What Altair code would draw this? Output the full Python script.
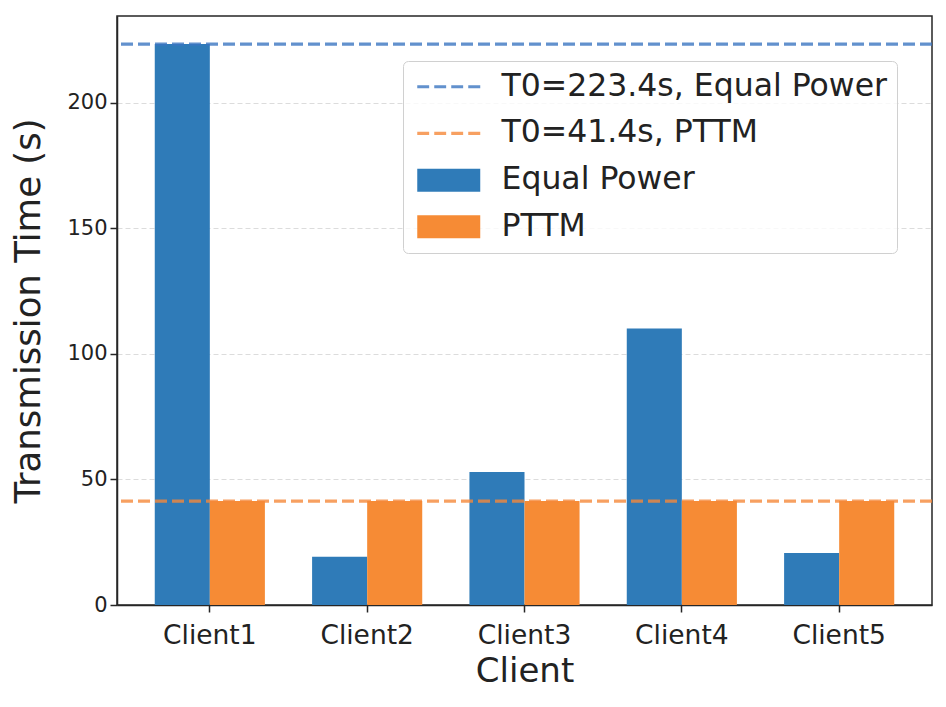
import altair as alt
import pandas as pd

# ---- data ----
clients = ["Client1", "Client2", "Client3", "Client4", "Client5"]
equal_power = [223.4, 19.2, 53.0, 110.1, 20.7]
pttm = [41.4, 41.4, 41.4, 41.4, 41.4]
series_names = ["Equal Power", "PTTM"]
t0_values = [223.4, 41.4]
t0_labels = ["T0=223.4s, Equal Power", "T0=41.4s, PTTM"]
y_ticks = [0, 50, 100, 150, 200]

# ---- styles ----
bar_colors = ["#2f7bb8", "#f68b35"]
rule_colors = ["#3b76c0", "#f5883a"]
rule_colors_blended = ["#6291cd", "#f7a061"]
legend_labels = t0_labels + series_names
legend_colors = rule_colors_blended + bar_colors
dash_path = ("M-1,-0.14H0.035V0.14H-1Z "
             "M0.478,-0.14H1.513V0.14H0.478Z "
             "M1.956,-0.14H2.991V0.14H1.956Z "
             "M3.434,-0.14H4.478V0.14H3.434Z")
patch_path = "M-1,-1H4.478V1H-1Z"
legend_paths = [dash_path, dash_path, patch_path, patch_path]

FONT = "DejaVu Sans"
DARK = "#262626"

bar_rows = []
for c, ep, pt in zip(clients, equal_power, pttm):
    bar_rows.append({"client": c, "series": series_names[0], "value": ep})
    bar_rows.append({"client": c, "series": series_names[1], "value": pt})
bar_df = pd.DataFrame(bar_rows)
rule_df = pd.DataFrame({"value": t0_values, "label": t0_labels})
legend_df = pd.DataFrame({"entry": legend_labels})

y_scale = alt.Scale(domain=[0, 234.57], nice=False, zero=True)

bars = alt.Chart(bar_df).mark_bar().encode(
    x=alt.X("client:N", sort=clients,
            scale=alt.Scale(paddingInner=0.3, paddingOuter=0.24),
            axis=alt.Axis(title="Client", labelAngle=0, labelFontSize=26.5,
                          labelPadding=10, tickSize=7, tickWidth=1.5,
                          tickColor=DARK, domainColor=DARK, domainWidth=1.5,
                          titleFontSize=34, titlePadding=6, grid=False,
                          labelColor="#222222", titleColor="#222222",
                          titleFontWeight="normal", labelFont=FONT, titleFont=FONT)),
    xOffset=alt.XOffset("series:N", sort=series_names,
                        scale=alt.Scale(domain=series_names, paddingInner=0, paddingOuter=0)),
    y=alt.Y("value:Q", scale=y_scale,
            axis=alt.Axis(title="Transmission Time (s)", values=y_ticks,
                          labelFontSize=21, labelPadding=3, tickSize=7,
                          tickWidth=1.5, tickColor=DARK, domainColor=DARK,
                          domainWidth=1.5, titleFontSize=35.5, titlePadding=20,
                          grid=True, gridDash=[5, 3], gridColor="#dcdcdc",
                          gridWidth=1, labelColor="#222222", titleColor="#222222",
                          titleFontWeight="normal", labelFont=FONT, titleFont=FONT)),
    color=alt.Color("series:N", scale=alt.Scale(domain=series_names, range=bar_colors),
                    legend=None),
)

rules = alt.Chart(rule_df).mark_rule(strokeDash=[12, 5], strokeWidth=3.2, opacity=0.8).encode(
    y=alt.Y("value:Q", scale=y_scale, title="Transmission Time (s)"),
    color=alt.Color("label:N", scale=alt.Scale(domain=t0_labels, range=rule_colors),
                    legend=None),
)

legend_props = dict(
    title=None, orient="none", legendX=286, legendY=45,
    symbolSize=529, symbolStrokeWidth=0, symbolOpacity=1,
    labelFontSize=31.5, labelFont=FONT, labelColor="#222222", labelLimit=1000,
    labelOffset=57, padding=10, rowPadding=13.7,
    fillColor="rgba(255,255,255,0.8)", strokeColor="#d0d0d0", cornerRadius=5,
)

dummy = alt.Chart(legend_df).mark_point(filled=True, opacity=0).encode(
    color=alt.Color("entry:N", sort=legend_labels,
                    scale=alt.Scale(domain=legend_labels, range=legend_colors),
                    legend=alt.Legend(**legend_props)),
    shape=alt.Shape("entry:N", sort=legend_labels,
                    scale=alt.Scale(domain=legend_labels, range=legend_paths),
                    legend=alt.Legend(**legend_props)),
)

chart = alt.layer(bars, rules, dummy).resolve_scale(
    color="independent", shape="independent"
).properties(
    width=815, height=589,
    autosize=alt.AutoSizeParams(type="none"),
    padding={"left": 109, "top": 8, "right": 6, "bottom": 94},
).configure(font=FONT).configure_view(stroke=DARK, strokeWidth=1.5)

chart.save("out.html", embed_options={"renderer": "svg", "actions": False})
